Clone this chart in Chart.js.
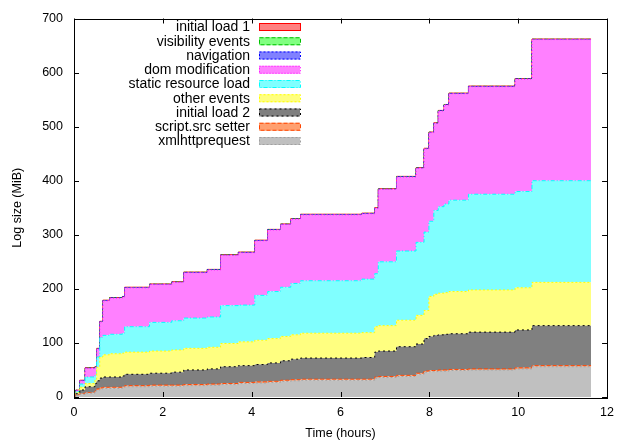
<!DOCTYPE html>
<html>
<head>
<meta charset="utf-8">
<script src="https://cdn.jsdelivr.net/npm/chart.js@4/dist/chart.umd.min.js"></script>
<style>
  html, body { margin: 0; padding: 0; background: #fff; }
  #wrap { width: 622px; height: 441px; }
</style>
</head>
<body>
<div id="wrap"><canvas id="myChart" width="622" height="441"></canvas></div>
<script>
// time (hours) at which each step starts
const times = [0, 0.04, 0.13, 0.25, 0.47, 0.51, 0.58, 0.65, 0.8, 1.09, 1.14, 1.7, 2.2, 2.47, 3.0, 3.3, 3.7, 4.07, 4.36, 4.65, 4.88, 5.1, 6.48, 6.77, 6.85, 7.26, 7.7, 7.88, 7.99, 8.1, 8.2, 8.33, 8.44, 8.88, 9.93, 10.31, 11.64];

// per-category log size (MiB), bottom layer first
const xmlhttprequest = [0, 3, 5, 7, 10, 13, 15, 16, 16, 17, 19, 20, 20, 21, 22, 23, 25, 26, 27, 29, 30, 31, 31, 35, 36, 38, 42, 46, 47, 47, 48, 48, 49, 50, 52, 56, 56];
const scriptSrcSetter = [0, 1, 1, 1, 1, 2, 2, 2, 2, 2, 2, 2, 2, 2, 2, 2, 2, 2, 2, 2, 2, 2, 2, 2, 2, 2, 2, 2, 2, 2, 2, 2, 2, 2, 2, 2, 2];
const initialLoad2 = [0, 2, 7, 11, 14, 15, 18, 19, 19, 20, 21, 22, 24, 27, 28, 31, 31, 32, 34, 36, 38, 39, 40, 46, 47, 53, 54, 60, 63, 65, 65, 66, 66, 68, 70, 74, 74];
const otherEvents = [0, 2, 5, 6, 6, 25, 39, 41, 43, 42, 41, 41, 41, 40, 40, 43, 44, 45, 45, 45, 45, 46, 46, 47, 47, 49, 53, 52, 74, 76, 77, 77, 78, 78, 78, 80, 80];
const staticResourceLoad = [0, 2, 6, 12, 9, 19, 36, 36, 36, 37, 47, 53, 54, 56, 56, 70, 68, 83, 87, 91, 95, 97, 99, 98, 118, 128, 135, 145, 139, 155, 160, 164, 169, 177, 178, 188, 188];
const domModification = [0, 2, 6, 16, 15, 15, 29, 64, 67, 67, 72, 70, 71, 84, 87, 93, 97, 101, 114, 116, 119, 122, 121, 121, 134, 137, 137, 154, 164, 161, 177, 183, 197, 199, 208, 261, 261];
const navigation = [0, 0.2, 0.3, 0.3, 0.3, 0.3, 0.3, 0.3, 0.3, 0.3, 0.3, 0.3, 0.3, 0.3, 0.3, 0.3, 0.3, 0.3, 0.3, 0.3, 0.3, 0.3, 0.3, 0.3, 0.3, 0.3, 0.3, 0.3, 0.3, 0.3, 0.3, 0.3, 0.3, 0.3, 0.3, 0.3, 0.3];
const visibilityEvents = [0, 0.2, 0.3, 0.3, 0.3, 0.3, 0.3, 0.3, 0.3, 0.3, 0.3, 0.3, 0.3, 0.3, 0.3, 0.3, 0.3, 0.3, 0.3, 0.3, 0.3, 0.3, 0.3, 0.3, 0.3, 0.3, 0.3, 0.3, 0.3, 0.3, 0.3, 0.3, 0.3, 0.3, 0.3, 0.3, 0.3];
const initialLoad1 = [0, 0.3, 0.4, 0.4, 0.4, 0.4, 0.4, 0.4, 0.4, 0.4, 0.4, 0.4, 0.4, 0.4, 0.4, 0.4, 0.4, 0.4, 0.4, 0.4, 0.4, 0.4, 0.4, 0.4, 0.4, 0.4, 0.4, 0.4, 0.4, 0.4, 0.4, 0.4, 0.4, 0.4, 0.4, 0.4, 0.4];

const xTicks = [0, 2, 4, 6, 8, 10, 12];
const yTicks = [0, 100, 200, 300, 400, 500, 600, 700];

const series = [
    { label: 'xmlhttprequest', values: xmlhttprequest, fill: '#c0c0c0', line: '#a0a0a0', dash: [2, 2] },
    { label: 'script.src setter', values: scriptSrcSetter, fill: '#ffa070', line: '#ff4500', dash: [4, 2] },
    { label: 'initial load 2', values: initialLoad2, fill: '#808080', line: '#000000', dash: [2, 3] },
    { label: 'other events', values: otherEvents, fill: '#ffff80', line: '#ffff00', dash: [2, 2] },
    { label: 'static resource load', values: staticResourceLoad, fill: '#80ffff', line: '#00ffff', dash: [4, 2, 1, 2] },
    { label: 'dom modification', values: domModification, fill: '#ff80ff', line: '#ff00ff', dash: [1, 2] },
    { label: 'navigation', values: navigation, fill: '#8080ff', line: '#0000ff', dash: [2, 2] },
    { label: 'visibility events', values: visibilityEvents, fill: '#80ff80', line: '#00c000', dash: [4, 2] },
    { label: 'initial load 1', values: initialLoad1, fill: '#ff8080', line: '#ff0000', dash: [] }
];

const FONT = '"Liberation Sans", Arial, sans-serif';

const frame = {
    id: 'frame',
    afterDraw(chart) {
        const { ctx, chartArea: a, scales } = chart;
        ctx.save();
        ctx.strokeStyle = '#000';
        ctx.lineWidth = 1;
        ctx.beginPath();
        xTicks.forEach(v => {
            const x = Math.round(scales.x.getPixelForValue(v)) + 0.5;
            ctx.moveTo(x, a.bottom); ctx.lineTo(x, a.bottom - 5);
            ctx.moveTo(x, a.top); ctx.lineTo(x, a.top + 5);
        });
        yTicks.forEach(v => {
            const y = Math.round(scales.y.getPixelForValue(v)) + 0.5;
            ctx.moveTo(a.left, y); ctx.lineTo(a.left + 5, y);
            ctx.moveTo(a.right, y); ctx.lineTo(a.right - 5, y);
        });
        ctx.stroke();
        ctx.strokeRect(Math.round(a.left) + 0.5, Math.round(a.top) + 0.5,
            Math.round(a.right - a.left), Math.round(a.bottom - a.top));

        // key, gnuplot style: text right aligned, sample box on the right
        ctx.font = '14px ' + FONT;
        ctx.textAlign = 'right';
        ctx.textBaseline = 'middle';
        const items = series.slice().reverse();
        items.forEach((s, i) => {
            const y = 27 + i * 14.25;
            ctx.fillStyle = '#000';
            ctx.fillText(s.label, 250, y + 0.5);
            ctx.fillStyle = s.fill;
            ctx.fillRect(259, y - 4, 41, 8);
            ctx.strokeStyle = s.line;
            ctx.setLineDash(s.dash);
            ctx.strokeRect(259.5, y - 3.5, 41, 7);
            ctx.setLineDash([]);
        });
        ctx.restore();
    }
};

const ctx = document.getElementById('myChart').getContext('2d');
Chart.defaults.font.family = FONT;
Chart.defaults.font.size = 12.5;
Chart.defaults.color = '#000';

new Chart(ctx, {
    type: 'line',
    data: {
        datasets: series.map((s, i) => ({
            label: s.label,
            data: times.map((t, j) => ({ x: t, y: s.values[j] })),
            backgroundColor: s.fill,
            borderColor: s.line,
            borderWidth: 1,
            borderDash: s.dash,
            fill: i === 0 ? 'origin' : '-1',
            stepped: 'before',
            pointRadius: 0
        }))
    },
    options: {
        responsive: false,
        animation: false,
        layout: { padding: { left: 0, right: 9, top: 17, bottom: 0 } },
        plugins: { legend: { display: false }, tooltip: { enabled: false } },
        scales: {
            x: {
                type: 'linear',
                min: 0,
                max: 12,
                grid: { display: false, drawTicks: false },
                border: { display: false },
                ticks: { stepSize: 2, padding: 8 },
                title: { display: true, text: 'Time (hours)', padding: { top: 2, bottom: 0 } },
                afterFit(scale) { scale.height = 44; }
            },
            y: {
                stacked: true,
                min: 0,
                max: 700,
                grid: { display: false, drawTicks: false },
                border: { display: false },
                ticks: { stepSize: 100, padding: 11 },
                title: { display: true, text: 'Log size (MiB)', padding: { top: 10, bottom: 0 } },
                afterFit(scale) { scale.width = 74; }
            }
        }
    },
    plugins: [frame]
});
</script>
</body>
</html>
